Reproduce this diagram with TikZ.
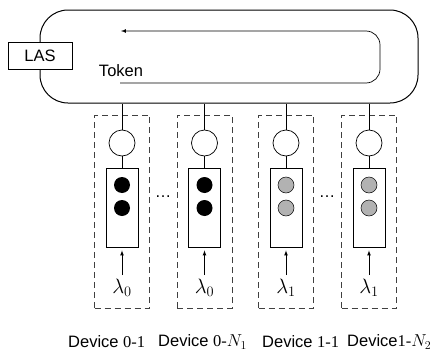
\documentclass[tikz,border=0pt]{standalone}
\usepackage{fontspec}
\setmainfont{Liberation Sans}
\newfontfamily\numfont{Liberation Serif}
\usepackage{tikz}
\usetikzlibrary{arrows,positioning}
\tikzset{
myRing/.style={
	draw, line width=1pt, rounded corners=28pt,
	minimum width=378pt, minimum height=93pt, inner sep=0pt
}
, myLAS/.style={
	draw, fill=white, line width=0.7pt,
	minimum width=64pt, minimum height=27pt, inner sep=0pt
}
, myDevBox/.style={
	draw=black!75, dash pattern=on 6pt off 4pt, line width=0.6pt,
	minimum width=55pt, minimum height=193pt, inner sep=0pt
}
, myServer/.style={
	draw, circle, line width=0.7pt, minimum size=26pt, inner sep=0pt
}
, myQueue/.style={
	draw, rectangle, line width=0.8pt,
	minimum width=32pt, minimum height=79pt, inner sep=0pt
}
, myPkt/.style={
	circle, fill=black, minimum size=16pt, inner sep=0pt
}
, myPktGray/.style={
	circle, draw, fill=black!30, line width=0.5pt, minimum size=16pt, inner sep=0pt
}
% link
, myLink/.style={line width=0.7pt}
, myArrival/.style={-latex, line width=0.7pt, shorten <=4pt, shorten >=3pt}
, myToken/.style={-latex, line width=0.7pt, rounded corners=14pt}
, myLabel/.style={inner sep=0pt, anchor=west}
, myLambda/.style={inner sep=0pt, font=\fontsize{20}{22}\selectfont}
}

\begin{document}
\begin{tikzpicture}[x=1pt,y=-1pt,font=\fontsize{16.5}{19}\selectfont]
	\useasboundingbox (0,0) rectangle (431,356);
	% ring
	\node[myRing] (Ring) at (229,56.5) {};
	\node[myLAS] (LAS) at (40,55.5) {LAS};
	\node[inner sep=0pt] (Token) at (121,71) {Token};
	% token path
	\coordinate (TokStart) at (120,83);
	\coordinate (TokCorner1) at (380,83);
	\coordinate (TokCorner2) at (380,31);
	\coordinate (TokEnd) at (121,31);
	\draw [myToken] (TokStart) -- (TokCorner1) -- (TokCorner2) -- (TokEnd);

	% devices
	\foreach \i/\x/\pkt/\lam in {1/122/myPkt/0, 2/204.5/myPkt/0, 3/286/myPktGray/1, 4/369/myPktGray/1} {
		\node[myDevBox] (B\i) at (\x,211.5) {};
		\node[myServer] (S\i) at (\x,143) {};
		\node[myQueue] (Q\i) at (\x,207.5) {};
		\node[\pkt] (P\i a) at (\x,185) {};
		\node[\pkt] (P\i b) at (\x,208) {};
		\node[myLambda] (L\i) at (\x,288) {$\lambda_{\lam}$};
		\draw [myLink] (S\i.north) -- (S\i.north |- Ring.south);
		\draw [myLink] (S\i.south) -- (Q\i.north);
		\draw [myArrival] (L\i.north) -- (Q\i.south);
	}
	\node (Dots1) at (163,197) {\dots};
	\node (Dots2) at (327,197) {\dots};

	% labels
	\node[myLabel] (Dev1) at (68,342) {Device {\numfont 0-1}};
	\node[myLabel] (Dev2) at (158,342) {Device {\numfont 0-}$N_1$};
	\node[myLabel] (Dev3) at (262,342) {Device {\numfont 1-1}};
	\node[myLabel] (Dev4) at (347,342) {Device{\numfont 1-}$N_2$};
\end{tikzpicture}
\end{document}
